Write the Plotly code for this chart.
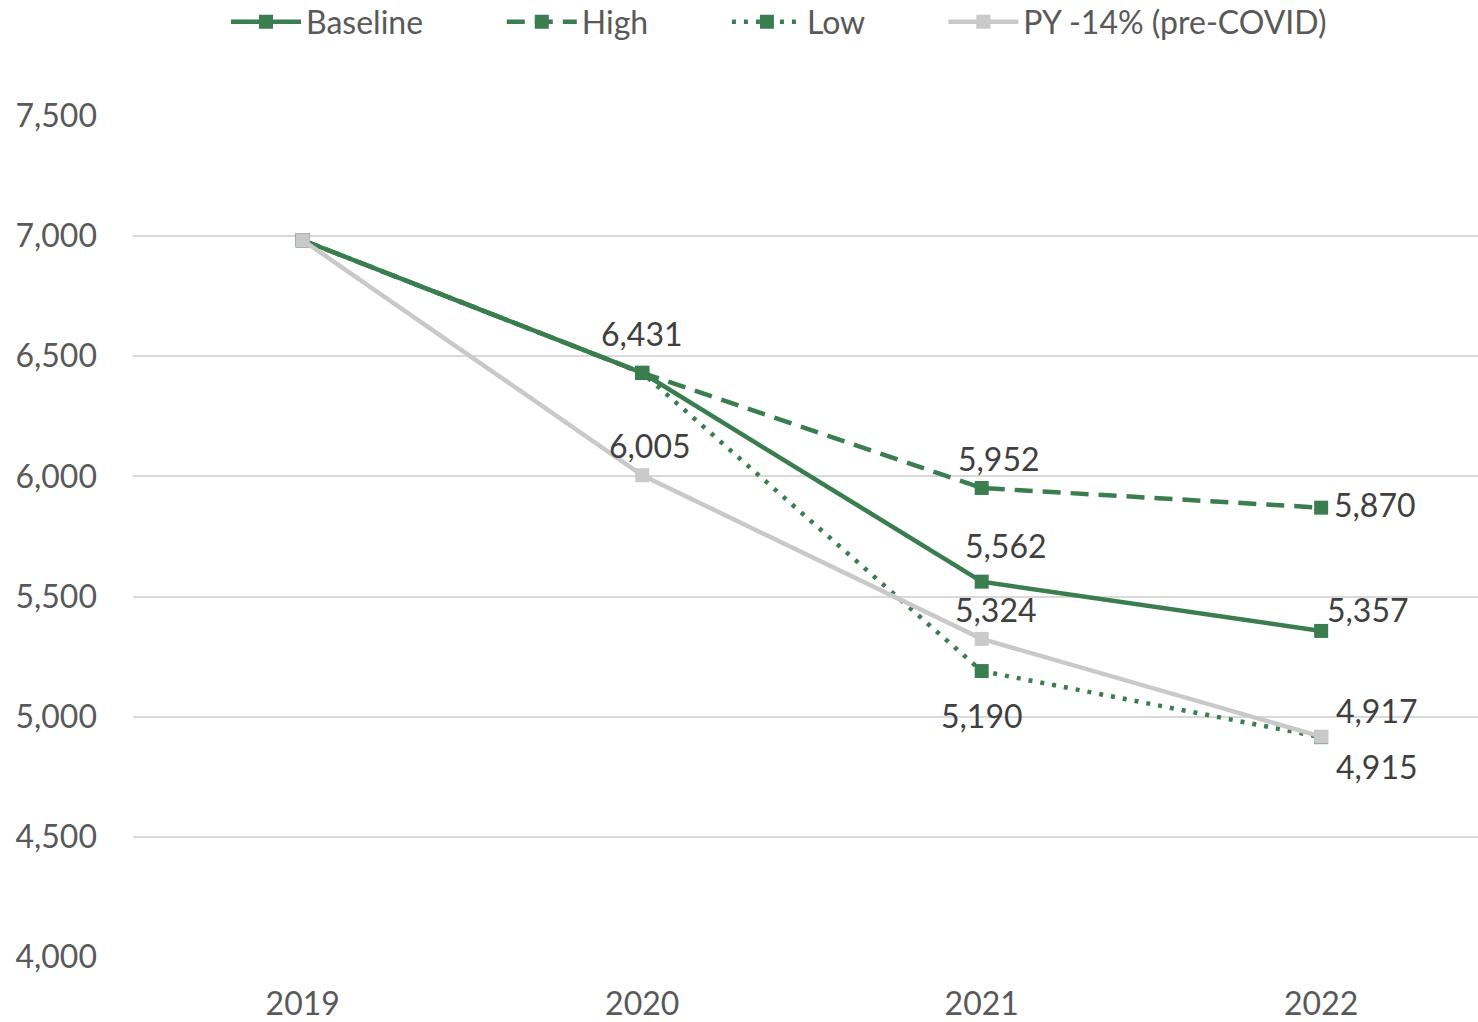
import plotly.graph_objects as go

years = ["2019", "2020", "2021", "2022"]
baseline = [6983, 6431, 5562, 5357]
high = [6983, 6431, 5952, 5870]
low = [6983, 6431, 5190, 4915]
py_pre_covid = [6983, 6005, 5324, 4917]

y_ticks = [4000, 4500, 5000, 5500, 6000, 6500, 7000, 7500]

GREEN = "#3A7D4E"
GREY = "#C9C9C9"
LABEL = "#404040"
AXIS_TEXT = "#595959"
FONT = "Lato"
PAD = "\u00a0" * 9  # spacing after a legend entry

# series: name, values, colour, dash pattern, legend padding
series = [
    ("Baseline", baseline, GREEN, "solid", PAD),
    ("High", high, GREEN, "18px,10px", PAD),
    ("Low", low, GREEN, "4px,8px", PAD),
    ("PY -14% (pre-COVID)", py_pre_covid, GREY, "solid", ""),
]

# data-label offsets in pixels (dx, dy) per series and year index
label_offsets = {
    "Baseline": {1: (0, -39), 2: (24, -36), 3: (47, -21)},
    "High": {2: (17, -29), 3: (54, -3)},
    "Low": {2: (0, 44), 3: (56, 29)},
    "PY -14% (pre-COVID)": {1: (8, -30), 2: (14, -29), 3: (56, -26)},
}

fig = go.Figure()
annotations = []
for name, vals, color, dash, pad in series:
    fig.add_trace(go.Scatter(
        x=years, y=vals, name=name + pad,
        mode="lines+markers",
        line=dict(color=color, width=4.5, dash=dash),
        marker=dict(symbol="square", size=14, color=color),
        cliponaxis=False,
    ))
    for i, (dx, dy) in label_offsets[name].items():
        # category axes position annotations by category index
        annotations.append(dict(
            x=i, y=vals[i], xref="x", yref="y",
            text=f"{vals[i]:,}",
            showarrow=False, xshift=dx, yshift=-dy,
            font=dict(family=FONT, size=32, color=LABEL),
        ))

fig.update_layout(
    width=1478, height=1022,
    margin=dict(l=133, r=0, t=116, b=65),
    paper_bgcolor="white", plot_bgcolor="white",
    font=dict(family=FONT, size=32, color=AXIS_TEXT),
    showlegend=True,
    legend=dict(
        orientation="h", xref="container", yref="container",
        x=226 / 1478, xanchor="left", y=1 - 22 / 1022, yanchor="middle",
        font=dict(family=FONT, size=32, color=AXIS_TEXT),
        itemwidth=70, bgcolor="rgba(0,0,0,0)", traceorder="normal",
    ),
    annotations=annotations,
    xaxis=dict(
        type="category", range=[-0.5, 3.462],
        showgrid=False, zeroline=False, showline=False,
        ticks="", ticklabelstandoff=25, automargin=False,
        tickfont=dict(family=FONT, size=32, color=AXIS_TEXT),
    ),
    yaxis=dict(
        range=[4000, 7500], tickvals=y_ticks,
        tickformat=",d",
        showgrid=True, gridcolor="#D9D9D9", gridwidth=2,
        zeroline=False, showline=False, ticks="",
        ticklabelstandoff=35, automargin=False,
        tickfont=dict(family=FONT, size=32, color=AXIS_TEXT),
    ),
)

fig.write_html("out.html")
